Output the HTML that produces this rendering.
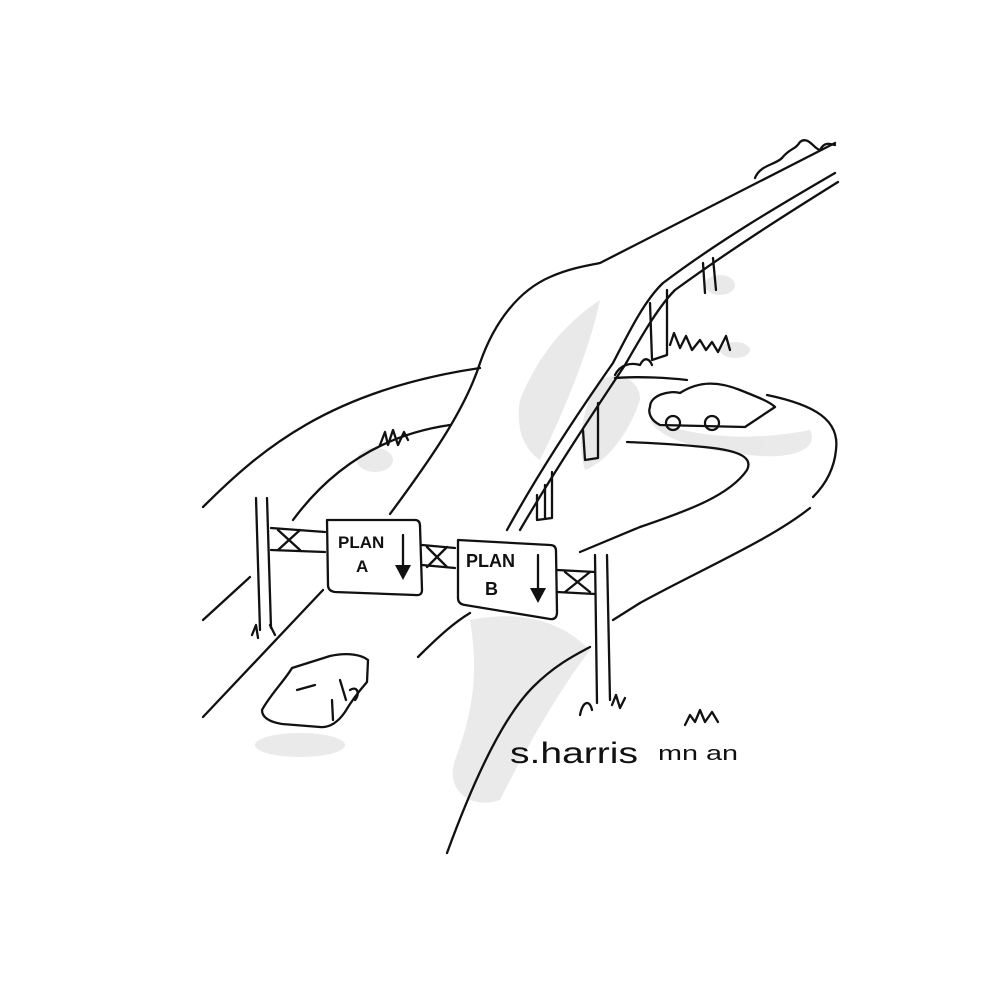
<!DOCTYPE html>
<html><head><meta charset="utf-8"><style>
html,body{margin:0;padding:0;background:#fff;}
svg{display:block}
</style></head><body>
<svg width="1000" height="1000" viewBox="0 0 1000 1000" xmlns="http://www.w3.org/2000/svg">
<rect width="1000" height="1000" fill="#fff"/>
<g fill="#dcdcdc" opacity="0.6">
<path d="M470 620 C520 610 560 620 590 650 C560 690 530 740 500 800 C470 810 445 790 455 760 C470 720 480 680 470 620 Z"/>
<path d="M600 380 C620 370 640 380 640 400 C630 430 610 460 585 470 C575 440 585 400 600 380 Z"/>
<path d="M650 420 C700 440 760 440 810 430 C820 450 790 460 750 455 C700 450 660 440 650 420 Z"/>
<ellipse cx="300" cy="745" rx="45" ry="12"/>
<ellipse cx="375" cy="460" rx="18" ry="12"/>
<ellipse cx="735" cy="350" rx="15" ry="8"/>
<ellipse cx="720" cy="285" rx="15" ry="10"/>
<path d="M520 400 C540 350 570 320 600 300 C590 350 560 420 540 460 C525 450 515 430 520 400 Z"/>
</g>
<g fill="none" stroke="#111" stroke-width="2.3" stroke-linecap="round" stroke-linejoin="round">
<path d="M390 514 C430 460 465 410 480 363 C495 320 520 290 550 277 C570 268 590 265 600 263 L835 143"/>
<path d="M507 530 C540 470 580 410 613 363 C630 330 645 300 663 283 C720 240 780 205 835 173"/>
<path d="M520 530 C555 470 595 410 625 365 C645 330 660 305 675 290 C730 250 785 215 838 182"/>
<path d="M537 495 L537 520 L552 518 L552 472 M545 485 L545 518"/>
<path d="M583 430 L585 460 L598 458 L598 403"/>
<path d="M650 303 L652 360 L667 355 L667 290"/>
<path d="M703 263 L705 293 M713 258 L716 290"/>
<path d="M755 178 C760 165 775 165 782 158 C790 148 795 150 800 142 C808 135 815 150 820 150 C825 140 832 145 835 145"/>
<path d="M203 507 C260 450 330 390 480 368"/>
<path d="M293 520 C330 470 380 435 450 425"/>
<path d="M203 620 L250 577"/>
<path d="M203 717 L323 590"/>
<path d="M418 657 C440 635 455 622 470 613"/>
<path d="M447 853 C470 790 500 720 533 687 C555 665 575 655 590 647"/>
<path d="M580 552 L640 527"/>
<path d="M613 620 L640 603"/>
<path d="M615 378 C640 376 670 378 687 380"/>
<path d="M767 395 C815 405 840 420 836 450 C834 470 825 485 813 497"/>
<path d="M640 527 C690 510 730 495 747 470 C752 460 745 452 713 448 C680 444 650 443 627 442"/>
<path d="M640 603 C700 570 770 540 810 508"/>
<path d="M256 498 L260 630 M267 498 L271 628"/>
<path d="M595 555 L597 703 M607 555 L610 700"/>
<path d="M271 528 L325 532 M271 550 L325 552 M422 545 L455 548 M422 565 L455 568 M557 570 L595 572 M557 592 L595 594"/>
<path d="M278 530 L300 550 M300 530 L278 550 M427 547 L447 567 M447 547 L427 567 M565 572 L590 592 M590 572 L565 592"/>
<path d="M327 520 L415 520 Q420 520 420 526 L422 590 Q422 596 415 595 L335 592 Q328 591 328 585 Z"/>
<path d="M458 540 L550 545 Q556 545 556 551 L557 612 Q557 620 550 619 L465 605 Q458 604 458 598 Z"/>
<path d="M403 535 L403 565 M538 555 L538 590"/>
<path d="M262 710 C270 695 285 680 292 668 L330 656 C348 652 362 655 368 660 L367 682 C360 690 352 700 345 712 C338 722 330 728 320 727 L282 724 C270 722 262 718 262 710 Z"/>
<path d="M297 690 L315 685 M340 680 L346 700 M332 700 L333 720 M350 690 C358 685 360 695 355 700"/>
<path d="M650 407 C650 395 670 390 680 393 C700 380 720 382 740 390 C760 398 770 402 775 407 L745 427 L660 425 C650 420 648 412 650 407 Z"/>
<circle cx="673" cy="423" r="7"/><circle cx="712" cy="423" r="7"/>
<path d="M380 445 L385 432 L388 445 L393 430 L398 445 L404 432 L408 440"/>
<path d="M670 345 L674 333 L680 348 L686 336 L692 350 L700 340 L706 350 L712 342 L718 352 L726 336 L730 350"/>
<path d="M615 375 C620 365 630 362 640 365 C645 355 650 360 652 365"/>
<path d="M580 715 C583 700 590 700 592 710 M612 705 L616 695 L620 708 L625 698"/>
<path d="M685 725 L690 715 L695 722 L700 710 L705 722 L712 712 L718 722"/>
<path d="M252 635 L256 625 L258 638 M270 625 L275 635"/>
</g>
<path d="M395 565 L411 565 L403 580 Z M530 588 L546 588 L538 603 Z" fill="#111"/>
<text x="338" y="548" font-family="Liberation Sans, sans-serif" font-size="17" font-weight="bold" fill="#111">PLAN</text>
<text x="356" y="572" font-family="Liberation Sans, sans-serif" font-size="17" font-weight="bold" fill="#111">A</text>
<text x="466" y="567" font-family="Liberation Sans, sans-serif" font-size="18" font-weight="bold" fill="#111">PLAN</text>
<text x="485" y="595" font-family="Liberation Sans, sans-serif" font-size="18" font-weight="bold" fill="#111">B</text>
<text x="510" y="763" font-family="Liberation Sans, sans-serif" font-size="30" fill="#111" textLength="128" lengthAdjust="spacingAndGlyphs">s.harris</text>
<text x="658" y="760" font-family="Liberation Sans, sans-serif" font-size="20" fill="#111" textLength="80" lengthAdjust="spacingAndGlyphs">mn an</text>
</svg>
</body></html>
